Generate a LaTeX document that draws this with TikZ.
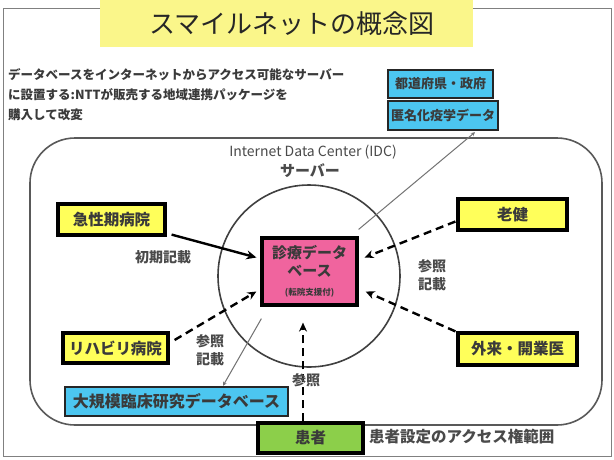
\documentclass[tikz,border=0pt]{standalone}
\usepackage{fontspec}
\setmainfont{Noto Sans CJK JP}
\usetikzlibrary{calc,arrows.meta}
\definecolor{titley}{HTML}{FAF68A}
\definecolor{boxy}{HTML}{FFFF5A}
\definecolor{boxb}{HTML}{4CC6F0}
\definecolor{boxp}{HTML}{F0649E}
\definecolor{boxg}{HTML}{8CCF4A}
\definecolor{txt}{HTML}{3A3A3A}
\definecolor{lbl}{HTML}{4A4A4A}
\tikzset{
  ybox/.style={draw=black, line width=3.2pt, fill=boxy, inner sep=0pt, text=txt, font=\bfseries\fontsize{15.5}{17}\selectfont},
  bbox/.style={draw=black!85, line width=2.4pt, fill=boxb, inner sep=0pt, text=txt, font=\bfseries\fontsize{13}{15}\selectfont},
  pbox/.style={draw=black, line width=3.2pt, fill=boxp, inner sep=0pt, text=txt, align=center, font=\bfseries\fontsize{15}{18}\selectfont},
  gbox/.style={draw=black, line width=3.2pt, fill=boxg, inner sep=0pt, text=txt, font=\bfseries\fontsize{15.5}{17}\selectfont},
  lab/.style={text=lbl, font=\bfseries\fontsize{14}{18}\selectfont, align=center, inner sep=0pt},
  solidarr/.style={line width=2.4pt, -{Stealth[length=10pt,width=9pt]}},
  dasharr/.style={line width=2.4pt, dash pattern=on 8pt off 5pt, -{Stealth[length=9pt,width=8pt]}},
  thinline/.style={line width=1pt, draw=black!55, -{Stealth[length=4pt,width=4pt]}},
}
\begin{document}
\begin{tikzpicture}[x=1pt,y=-1pt]
\useasboundingbox (0,0) rectangle (614,459);
\fill[white] (0,0) rectangle (614,459);
% outer frame
\draw[black!50, line width=1pt] (3,8) rectangle (611,456);
% title
\fill[titley] (100,0) rectangle (473,47);
\node[text=black!85, font=\fontsize{26}{30}\selectfont, inner sep=0pt] (title) at (292,24) {スマイルネットの概念図};
% top-left text
\node[anchor=north west, align=left, text=txt, font=\bfseries\fontsize{12.5}{20}\selectfont, inner sep=0pt] (intro) at (8,68)
  {データベースをインターネットからアクセス可能なサーバー\\に設置する:NTTが販売する地域連携パッケージを\\購入して改変};
% IDC frame
\draw[black!65, line width=1.6pt, rounded corners=45pt] (30,138) rectangle (602,425);
\node[text=lbl, font=\fontsize{14}{16}\selectfont, inner sep=0pt] (idc) at (313,152) {Internet Data Center (IDC)};
\node[text=lbl, font=\bfseries\fontsize{15}{16}\selectfont, inner sep=0pt] (srvlbl) at (310,171) {サーバー};
% server circle
\node[draw=black!75, line width=1.6pt, circle, minimum size=182pt, inner sep=0pt] (server) at (309,276) {};
% boxes
\node[bbox, minimum width=105pt, minimum height=28pt] (pref) at (440.5,84) {都道府県・政府};
\node[bbox, minimum width=110pt, minimum height=29pt] (tokumei) at (443,115.5) {匿名化疫学データ};
\node[ybox, minimum width=107pt, minimum height=31pt] (acute) at (111.5,219.5) {急性期病院};
\node[ybox, minimum width=109pt, minimum height=31pt] (roken) at (512.5,214.5) {老健};
\node[ybox, minimum width=105pt, minimum height=30pt] (rehab) at (115.5,348) {リハビリ病院};
\node[ybox, minimum width=119pt, minimum height=32pt] (gairai) at (517.5,349) {外来・開業医};
\node[gbox, minimum width=105pt, minimum height=30pt] (kanja) at (310.5,438) {患者};
\node[bbox, minimum width=223pt, minimum height=29pt, font=\bfseries\fontsize{16}{18}\selectfont] (daikibo) at (176.5,401.5) {大規模臨床研究データベース};
\node[pbox, minimum width=95pt, minimum height=67pt] (db) at (309.5,271.5)
  {診療データ\\ベース\\[1pt]\fontsize{8.5}{10}\selectfont (転院支援付)};
% connectors
\draw[solidarr] ($(acute.south east)+(5,-2)$) -- ($(db.west)+(-4,-14)$);
\draw[dasharr] ($(roken.west)+(-1,7)$) -- ($(db.east)+(6,-14)$);
\draw[dasharr] ($(gairai.north west)+(-1,0)$) -- ($(db.east)+(7,20)$);
\draw[dasharr] ($(rehab.east)+(5,-8)$) -- ($(db.west)+(-4,20)$);
\coordinate (kanjatip) at ($(db.south)+(-6.5,16)$);
\draw[dasharr] ($(kanja.north)+(-7.5,0)$) -- (kanjatip);
\draw[thinline] ($(db.north east)+(0,-7)$) -- ($(tokumei.south)+(32,1)$);
\draw[thinline] ($(db.south west)+(1,12)$) -- ($(daikibo.north)+(46.5,0)$);
% labels
\node[lab] (l1) at (163,257) {初期記載};
\node[lab] (l2) at (432,275) {参照\\記載};
\node[lab] (l3) at (210,350) {参照\\記載};
\node[lab] (l4) at (306,380) {参照};
\node[anchor=west, text=lbl, font=\bfseries\fontsize{15.5}{17}\selectfont, inner sep=0pt] (l5) at (369,437) {患者設定のアクセス権範囲};
\end{tikzpicture}
\end{document}
